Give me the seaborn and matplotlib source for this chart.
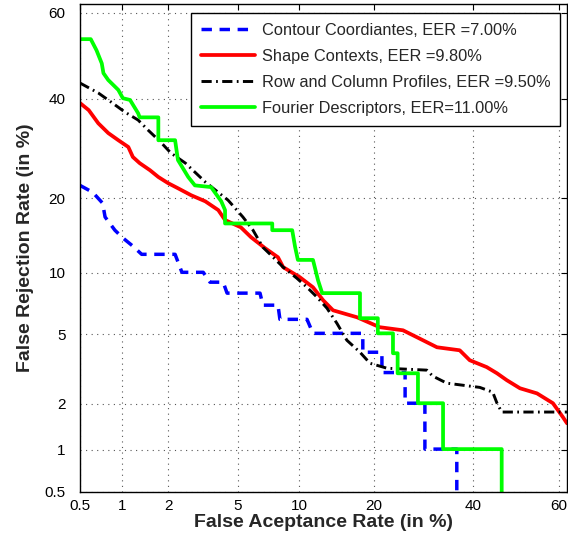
import numpy as np
import pandas as pd
import matplotlib
matplotlib.use("Agg")
import matplotlib.pyplot as plt
import seaborn as sns
from statistics import NormalDist

# DET curves, values in percent (FAR, FRR)
contour_far = [0.5, 0.62, 0.73, 0.76, 0.89, 1.01, 1.18, 1.35, 2.20, 2.42, 3.23, 3.53, 4.18, 4.39,
               6.52, 6.74, 7.98, 8.15, 10.84, 11.51, 18.26, 18.26, 21.4, 21.4, 25.6, 25.6,
               29.5, 29.5, 36.3, 36.3]
contour_frr = [22.2, 21.0, 19.2, 17.05, 15.15, 14.1, 13.05, 12.05, 12.05, 10.05, 10.05, 9.06, 9.06, 8.05,
               8.05, 7.04, 7.04, 5.98, 5.98, 5.06, 5.06, 4.00, 4.00, 3.07, 3.07, 2.01,
               2.01, 1.01, 1.01, 0.1]

shape_far = [0.5, 0.58, 0.68, 0.80, 0.94, 1.10, 1.18, 1.31, 1.53, 1.73, 1.99, 2.29, 2.75, 3.32,
             3.93, 4.28, 5.20, 5.87, 6.90, 7.98, 8.44, 10.07, 11.51, 12.72, 13.98, 17.35,
             21.0, 25.2, 29.1, 32.0, 36.95, 39.2, 43.1, 45.5, 47.8, 50.9, 54.9, 58.6, 60.9, 61.8]
shape_frr = [39.0, 37.4, 34.5, 32.4, 30.9, 29.5, 27.5, 26.3, 24.95, 23.7, 22.6, 21.7, 20.5, 19.5,
             18.1, 16.6, 15.55, 14.2, 12.8, 11.7, 10.6, 9.55, 8.58, 7.44, 6.64, 6.13,
             5.45, 5.25, 4.65, 4.26, 4.10, 3.61, 3.30, 3.04, 2.77, 2.48, 2.31, 2.01, 1.64, 1.50]

rowcol_far = [0.5, 0.68, 0.84, 1.04, 1.28, 1.49, 1.79, 2.07, 2.54, 2.89, 3.32, 4.44, 5.33, 6.01,
              6.74, 7.57, 8.44, 9.76, 10.84, 11.98, 13.2, 14.5, 15.87, 17.82, 19.4, 22.3,
              29.9, 31.1, 34.1, 41.5, 44.5, 45.5, 46.6, 61.8]
rowcol_frr = [43.6, 41.3, 39.2, 37.0, 35.2, 33.0, 30.5, 28.3, 26.3, 24.6, 22.8, 19.7, 17.05, 15.15,
              12.9, 11.7, 10.6, 9.45, 8.58, 7.70, 6.80, 5.70, 4.65, 4.00, 3.47, 3.25,
              3.17, 2.93, 2.66, 2.51, 2.35, 2.01, 1.77, 1.77]

fourier_far = [0.5, 0.60, 0.66, 0.72, 0.74, 0.80, 0.94, 1.01, 1.13, 1.28, 1.31, 1.73, 1.73, 2.20,
               2.29, 2.64, 2.89, 3.58, 4.08, 4.28, 4.28, 7.49, 7.49, 9.30, 9.58, 9.87, 11.51,
               12.10, 12.60, 17.82, 17.82, 20.7, 20.7, 23.35, 23.35, 24.2, 24.2, 28.1, 28.1,
               33.3, 33.3, 46.6, 46.6]
fourier_frr = [53.9, 53.9, 51.3, 48.2, 45.9, 44.3, 42.0, 40.1, 39.7, 36.7, 35.8, 35.8, 30.9, 30.9,
               26.9, 23.7, 22.2, 21.9, 19.5, 18.1, 16.1, 16.1, 15.15, 15.15, 13.0, 11.4, 11.4,
               9.25, 8.05, 8.05, 6.06, 6.06, 5.06, 5.06, 3.95, 3.95, 3.04, 3.04, 2.01,
               2.01, 1.01, 1.01, 0.1]

labels = ["Contour Coordiantes, EER =7.00%",
          "Shape Contexts, EER =9.80%",
          "Row and Column Profiles, EER =9.50%",
          "Fourier Descriptors, EER=11.00%"]

tick_vals = [0.5, 1, 2, 5, 10, 20, 40, 60]
tick_labels = ["0.5", "1", "2", "5", "10", "20", "40", "60"]

nd = NormalDist()
_ppf = np.vectorize(nd.inv_cdf, otypes=[float])
_cdf = np.vectorize(nd.cdf, otypes=[float])


def probit(p):
    p = np.clip(np.asarray(p, dtype=float) / 100.0, 1e-6, 1 - 1e-6)
    return _ppf(p)


def inv_probit(z):
    z = np.asarray(z, dtype=float)
    return _cdf(z) * 100.0


sns.set_theme(style="white")
plt.rcParams['font.family'] = ['Liberation Sans', 'DejaVu Sans']

fig = plt.figure(figsize=(5.68, 5.40), dpi=100)
ax = fig.add_axes([0.1408, 0.0889, 0.8574, 0.9037])

# normal deviate scale on both axes (DET plot)
ax.set_xscale('function', functions=(probit, inv_probit))
ax.set_yscale('function', functions=(probit, inv_probit))

series = [
    (contour_far, contour_frr, "#0000ff", (0, (3.0, 2.2)), 2.5),
    (shape_far, shape_frr, "#ff0000", "-", 2.7),
    (rowcol_far, rowcol_frr, "#000000", (0, (3.5, 1.5, 0.6, 1.5)), 2.1),
    (fourier_far, fourier_frr, "#00ff00", "-", 2.7),
]
for (fx, fy, col, ls, lw), lab in zip(series, labels):
    df = pd.DataFrame({"far": fx, "frr": fy})
    sns.lineplot(data=df, x="far", y="frr", ax=ax, sort=False, estimator=None,
                 color=col, linestyle=ls, linewidth=lw, label=lab)

ax.set_xlim(0.5, 61.8)
ax.set_ylim(0.5, 62.0)
ax.set_xticks(tick_vals)
ax.set_xticklabels(tick_labels)
ax.set_yticks(tick_vals)
ax.set_yticklabels(tick_labels)
ax.minorticks_off()
ax.tick_params(direction='in', top=True, right=True, length=4, width=0.8,
               labelsize=11, colors='black')
ax.tick_params(axis='x', pad=5)
ax.tick_params(axis='y', pad=10.5)

ax.grid(True, linestyle=(0, (1, 4)), color='#555555', linewidth=0.8)
for s in ax.spines.values():
    s.set_color('black')
    s.set_linewidth(1.0)

ax.set_xlabel("False Aceptance Rate (in %)", fontsize=14, fontweight='bold')
ax.set_ylabel("False Rejection Rate (in %)", fontsize=14, fontweight='bold')
ax.xaxis.set_label_coords(0.5, -0.045)
ax.yaxis.set_label_coords(-0.094, 0.5)

leg = ax.legend(loc='upper right', bbox_to_anchor=(0.986, 0.982), borderaxespad=0,
                fontsize=11.8, handlelength=3.3, handletextpad=0.4, fancybox=False,
                framealpha=1, edgecolor='black', borderpad=0.6, labelspacing=0.68)
leg.get_frame().set_linewidth(1.0)

fig.savefig("out.png", dpi=100)
